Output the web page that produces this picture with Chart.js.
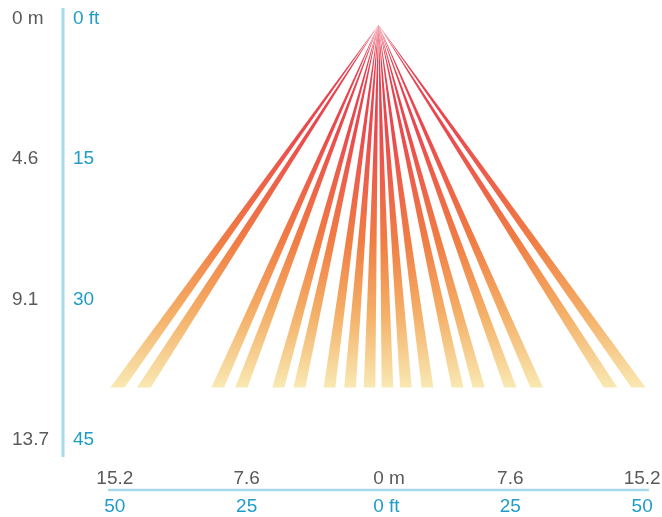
<!DOCTYPE html>
<html>
<head>
<meta charset="utf-8">
<script src="https://cdn.jsdelivr.net/npm/chart.js@4/dist/chart.umd.min.js"></script>
<style>
  html,body{margin:0;padding:0;background:#fff;}
  #wrap{width:662px;height:517px;}
</style>
</head>
<body>
<div id="wrap"><canvas id="c" width="662" height="517"></canvas></div>
<script>
// ---- data (feet) ----
const apexDepth = 0.7;          // ft, where all beams start
const beamDepth = 39.4;         // ft, where beams end
const beamEnds = [-49.5, -44.5, -30.5, -26, -19, -15, -9.3, -5.4, -1.7,
                   1.7, 5.2, 9.3, 15, 19, 25, 30, 44, 49.3];
const yTicksFt = [0, 15, 30, 45];
const yLabelsFt = ['0 ft', '15', '30', '45'];
const yLabelsM = ['0 m', '4.6', '9.1', '13.7'];
const xTicksFt = [-50, -25, 0, 25, 50];
const xLabelsFt = ['50', '25', '0 ft', '25', '50'];
const xLabelsM = ['15.2', '7.6', '0 m', '7.6', '15.2'];

const FONT = '19px "Liberation Sans", Arial, sans-serif';
const GRAY = '#5a5a5a';
const BLUE = '#1f9cc8';
const AXIS = '#a8d9e9';

function beamGradient(ctx) {
  const chart = ctx.chart;
  if (!chart.chartArea) return 'rgba(240,100,60,0.8)';
  const y0 = chart.scales.y.getPixelForValue(apexDepth);
  const y1 = chart.scales.y.getPixelForValue(beamDepth);
  const g = chart.ctx.createLinearGradient(0, y0, 0, y1);
  g.addColorStop(0.0, 'rgba(229,30,60,0.9)');
  g.addColorStop(0.3, 'rgba(232,60,62,0.92)');
  g.addColorStop(0.6, 'rgba(239,115,52,0.92)');
  g.addColorStop(0.8, 'rgba(243,168,88,0.9)');
  g.addColorStop(1.0, 'rgba(248,230,170,0.9)');
  return g;
}

const datasets = beamEnds.map(c => {
  // horizontal half-width grows with slant so the beam keeps a similar visual width
  const hw = 1.1 * Math.sqrt(1 + Math.pow(c * 5.27 / 361, 2));
  return {
    data: [
      {x: 0, y: apexDepth},
      {x: c - hw, y: beamDepth},
      {x: c + hw, y: beamDepth},
      {x: 0, y: apexDepth}
    ],
    showLine: true,
    fill: 'shape',
    borderWidth: 0,
    borderColor: 'rgba(0,0,0,0)',
    pointRadius: 0,
    backgroundColor: beamGradient,
    tension: 0
  };
});

const axesPlugin = {
  id: 'axesPlugin',
  afterDraw(chart) {
    const ctx = chart.ctx;
    const xs = chart.scales.x, ys = chart.scales.y;
    const area = chart.chartArea;
    ctx.save();
    // vertical axis line
    ctx.strokeStyle = AXIS;
    ctx.lineWidth = 3;
    ctx.beginPath();
    ctx.moveTo(63, area.top);
    ctx.lineTo(63, 457);
    ctx.stroke();
    // horizontal axis line
    ctx.lineWidth = 2.5;
    ctx.beginPath();
    ctx.moveTo(area.left, 490);
    ctx.lineTo(area.right, 490);
    ctx.stroke();

    ctx.font = FONT;
    ctx.textBaseline = 'middle';
    // left labels
    ctx.textAlign = 'left';
    yTicksFt.forEach((v, i) => {
      const py = ys.getPixelForValue(v);
      ctx.fillStyle = GRAY;
      ctx.fillText(yLabelsM[i], 12, py);
      ctx.fillStyle = BLUE;
      ctx.fillText(yLabelsFt[i], 73, py);
    });
    // bottom labels
    const drawCentered = (txt, px, py) => {
      if (txt.indexOf(' ') >= 0) {
        const first = txt.split(' ')[0];
        const w = ctx.measureText(first).width;
        ctx.textAlign = 'left';
        ctx.fillText(txt, px - w / 2, py);
      } else {
        ctx.textAlign = 'center';
        ctx.fillText(txt, px, py);
      }
    };
    xTicksFt.forEach((v, i) => {
      const px = xs.getPixelForValue(v);
      ctx.fillStyle = GRAY;
      drawCentered(xLabelsM[i], px, 479);
      ctx.fillStyle = BLUE;
      drawCentered(xLabelsFt[i], px, 507);
    });
    ctx.restore();
  }
};

new Chart(document.getElementById('c'), {
  type: 'scatter',
  data: { datasets },
  options: {
    responsive: false,
    animation: false,
    layout: { padding: { left: 108, right: 13, top: 8, bottom: 62 } },
    plugins: { legend: { display: false }, tooltip: { enabled: false } },
    scales: {
      x: { type: 'linear', min: -51.3, max: 51.3, display: false },
      y: { type: 'linear', min: -1.1, max: 46.6, reverse: true, display: false }
    }
  },
  plugins: [axesPlugin]
});
</script>
</body>
</html>
